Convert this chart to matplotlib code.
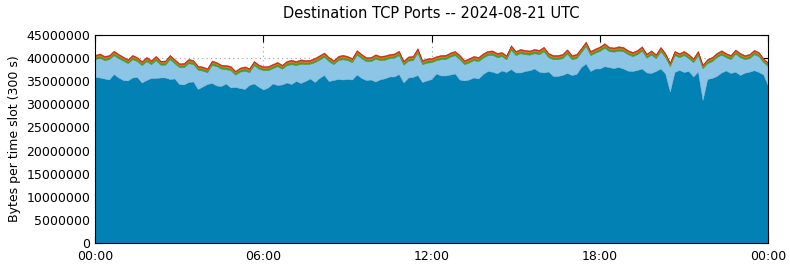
import numpy as np
import matplotlib
matplotlib.use("Agg")
import matplotlib.pyplot as plt

# time slots: 10-minute steps over the day (hours)
slot_hours = [i / 6 for i in range(145)]

tick_positions = [0, 6, 12, 18, 24]
tick_labels = ["00:00", "06:00", "12:00", "18:00", "00:00"]
ytick_values = [0, 5000000, 10000000, 15000000, 20000000, 25000000,
                30000000, 35000000, 40000000, 45000000]

# series values in millions of bytes per slot
dark = [35.91,35.81,35.59,35.37,36.56,35.81,35.26,35.16,35.81,35.91,
34.72,35.26,35.70,35.70,35.81,35.81,35.48,35.59,34.40,34.29,
34.83,34.94,33.32,33.86,34.40,34.62,34.07,33.97,34.51,33.64,
33.75,33.53,33.32,34.18,34.51,33.81,33.21,33.64,34.51,34.18,
34.29,34.72,34.40,35.05,34.62,35.05,35.59,34.83,35.70,36.35,
35.05,35.26,35.48,35.37,35.48,35.37,36.45,35.70,35.26,35.37,
34.94,35.42,35.63,36.02,36.02,36.56,34.72,35.81,35.91,36.35,
34.83,35.16,35.48,36.67,36.24,36.24,36.45,36.67,35.37,35.16,
35.37,35.81,35.59,36.56,37.21,37.06,36.71,37.32,37.00,37.64,
36.89,36.89,37.21,37.38,37.75,37.06,36.89,37.10,36.13,36.13,
36.35,36.78,36.35,36.56,38.08,38.83,37.21,37.75,37.75,38.25,
38.03,37.86,38.08,37.75,37.28,37.21,37.43,37.75,36.89,36.78,
37.21,37.75,36.67,32.78,37.00,37.43,37.00,37.21,36.02,37.10,
30.94,35.48,35.70,36.13,36.89,37.32,36.78,37.06,36.35,36.84,
37.06,37.38,37.00,36.45,33.97]

light = [3.86,4.29,3.97,4.40,4.08,4.18,4.19,3.75,3.96,3.43,
3.76,4.08,2.99,3.86,2.77,2.77,4.29,3.32,3.64,3.75,
4.08,3.75,4.18,3.43,2.56,3.92,4.19,3.75,3.10,3.75,
2.67,3.54,3.97,2.78,3.97,3.91,4.18,3.75,3.32,4.08,
3.43,3.76,4.29,3.43,4.18,3.64,3.21,4.29,3.96,3.96,
4.29,3.43,4.08,4.40,4.08,3.75,4.30,4.29,4.08,3.97,
4.94,4.14,4.03,3.97,4.08,4.08,3.86,3.64,3.65,4.83,
3.86,3.86,3.64,2.89,3.53,3.53,3.86,3.97,4.40,3.53,
3.69,3.75,3.75,3.54,3.43,3.69,3.50,3.10,2.77,4.19,
3.75,4.18,3.64,3.37,3.32,3.79,4.61,3.11,3.64,3.64,
3.64,4.18,3.42,3.43,3.21,3.76,3.43,3.43,3.82,4.01,
3.47,3.54,3.53,3.75,3.57,3.21,3.42,3.86,3.21,3.97,
2.78,3.75,3.54,5.48,3.64,2.78,3.64,2.78,3.10,3.54,
6.89,3.43,3.64,4.08,3.86,2.89,2.99,3.90,3.86,2.93,
2.93,3.47,3.42,2.67,4.29]

green = [0.46,0.45,0.47,0.44,0.46,0.48,0.45,0.43,0.46,0.44,
0.45,0.47,0.44,0.46,0.43,0.45,0.47,0.44,0.42,0.45,
0.46,0.44,0.43,0.45,0.42,0.46,0.44,0.43,0.45,0.44,
0.42,0.44,0.46,0.43,0.45,0.44,0.43,0.45,0.44,0.46,
0.43,0.45,0.47,0.44,0.46,0.45,0.43,0.46,0.47,0.45,
0.46,0.44,0.45,0.47,0.45,0.44,0.48,0.46,0.44,0.45,
0.47,0.45,0.46,0.44,0.46,0.47,0.43,0.45,0.46,0.48,
0.44,0.45,0.46,0.44,0.45,0.47,0.46,0.45,0.47,0.44,
0.45,0.46,0.44,0.46,0.47,0.45,0.46,0.44,0.43,0.47,
0.45,0.46,0.44,0.45,0.46,0.45,0.48,0.44,0.45,0.46,
0.44,0.47,0.45,0.44,0.46,0.48,0.45,0.46,0.47,0.48,
0.46,0.45,0.47,0.46,0.44,0.45,0.46,0.47,0.44,0.46,
0.43,0.46,0.45,0.40,0.46,0.44,0.45,0.44,0.43,0.46,
0.38,0.44,0.45,0.46,0.47,0.44,0.45,0.46,0.45,0.44,
0.45,0.46,0.45,0.43,0.40]

orange = [0.26,0.27,0.25,0.26,0.28,0.26,0.25,0.24,0.26,0.25,
0.24,0.26,0.25,0.27,0.24,0.25,0.26,0.25,0.24,0.25,
0.26,0.25,0.24,0.25,0.24,0.26,0.25,0.24,0.25,0.26,
0.23,0.25,0.26,0.24,0.26,0.25,0.24,0.25,0.26,0.25,
0.24,0.26,0.27,0.25,0.26,0.25,0.24,0.26,0.27,0.26,
0.25,0.24,0.26,0.27,0.25,0.26,0.28,0.26,0.25,0.26,
0.27,0.25,0.26,0.25,0.26,0.27,0.24,0.26,0.25,0.28,
0.25,0.26,0.25,0.24,0.26,0.27,0.26,0.25,0.26,0.25,
0.26,0.25,0.26,0.27,0.26,0.25,0.26,0.25,0.24,0.27,
0.26,0.25,0.26,0.25,0.26,0.27,0.28,0.25,0.26,0.25,
0.26,0.27,0.25,0.26,0.25,0.28,0.26,0.25,0.27,0.28,
0.26,0.25,0.27,0.26,0.25,0.26,0.25,0.27,0.25,0.26,
0.24,0.26,0.25,0.22,0.26,0.25,0.26,0.25,0.24,0.26,
0.21,0.25,0.26,0.25,0.27,0.25,0.26,0.25,0.26,0.25,
0.26,0.27,0.25,0.24,0.22]

red = [0.20,0.21,0.19,0.20,0.22,0.20,0.19,0.20,0.21,0.19,
0.20,0.21,0.19,0.20,0.19,0.20,0.21,0.20,0.19,0.20,
0.21,0.20,0.19,0.20,0.19,0.21,0.20,0.19,0.20,0.21,
0.18,0.20,0.21,0.19,0.20,0.21,0.19,0.20,0.21,0.20,
0.19,0.20,0.22,0.20,0.21,0.20,0.19,0.21,0.22,0.20,
0.21,0.19,0.20,0.22,0.20,0.21,0.22,0.20,0.19,0.20,
0.21,0.20,0.21,0.20,0.21,0.22,0.19,0.20,0.21,0.22,
0.20,0.21,0.20,0.19,0.20,0.21,0.20,0.21,0.22,0.20,
0.21,0.20,0.21,0.22,0.20,0.21,0.20,0.21,0.19,0.22,
0.20,0.21,0.20,0.21,0.20,0.22,0.21,0.20,0.21,0.20,
0.21,0.22,0.20,0.21,0.20,0.22,0.21,0.20,0.21,0.22,
0.21,0.20,0.22,0.21,0.20,0.21,0.20,0.22,0.20,0.21,
0.19,0.21,0.20,0.18,0.21,0.20,0.21,0.20,0.19,0.21,
0.17,0.20,0.21,0.20,0.22,0.20,0.21,0.20,0.21,0.20,
0.21,0.22,0.20,0.19,0.18]

layers = [dark, light, green, orange, red]
fill_colors = ["#0282b4", "#8cc5e5", "#4e9a2c", "#e07a1c", "#c8301a"]
edge_colors = ["#0a6c96", "#7ab4d6", "#4a9428", "#d87018", "#c02a14"]

fig = plt.figure(figsize=(7.9, 2.67), dpi=100)
ax = fig.add_axes([95 / 790, 24 / 267, (768 - 95) / 790, (243 - 35) / 267])
ax.set_axisbelow("line")  # grid and ticks below the filled areas

x = np.array(slot_hours)
base = np.zeros(len(x))
for vals, fc, ec in zip(layers, fill_colors, edge_colors):
    top = base + np.array(vals) * 1e6
    ax.fill_between(x, base, top, facecolor=fc, edgecolor=ec,
                    linewidth=0.35, zorder=2)
    base = top

ax.set_xlim(0, 24)
ax.set_ylim(0, 45000000)
ax.set_xticks(tick_positions)
ax.set_xticklabels(tick_labels)
ax.set_yticks(ytick_values)
ax.set_yticklabels([str(v) for v in ytick_values])
ax.tick_params(axis="both", labelsize=9, direction="in", length=5,
               top=True, right=True, width=0.8)
ax.tick_params(axis="x", pad=5)
ax.grid(True, linestyle=(0, (1, 3)), color="#a0a0a0", linewidth=0.8)

ax.set_ylabel("Bytes per time slot (300 s)", fontsize=9, labelpad=4)
ax.set_title("Destination TCP Ports -- 2024-08-21 UTC", fontsize=10.5, pad=12)

fig.savefig("out.png", dpi=100)
